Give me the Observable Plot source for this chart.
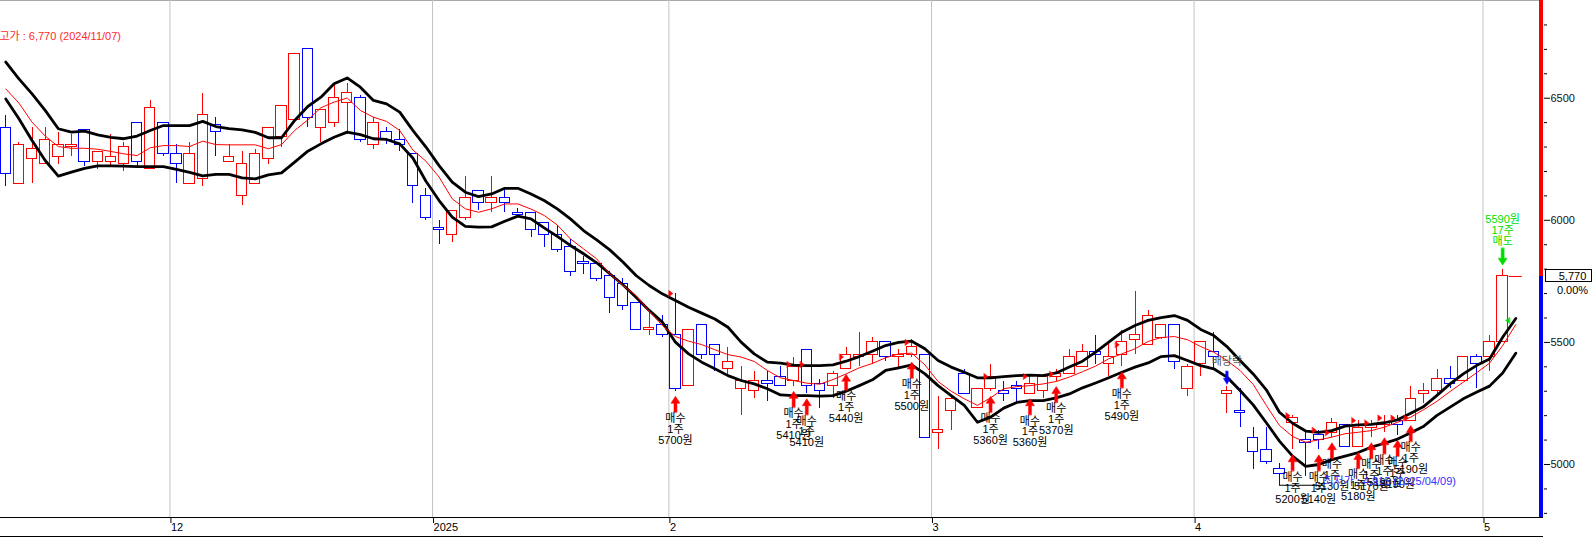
<!DOCTYPE html>
<html><head><meta charset="utf-8">
<script src="https://cdn.jsdelivr.net/npm/d3@7"></script>
<script src="https://cdn.jsdelivr.net/npm/@observablehq/plot@0.6"></script>
<style>
html,body{margin:0;padding:0;background:#fff;}
#chart svg{display:block;}
</style></head><body><div id="chart"></div>
<script>
// ---- data (trading-day index 0 = 2024/11/13) ----
const openP  = [6380,6150,6250,6230,6260,6300,6370,6240,6240,6230,6400,6210,6400,6270,6150,6170,6390,6240,6100,6150,6250,6340,6410,6700,6380,6400,6480,6500,6310,6360,6330,6270,6100,5970,5940,6010,6120,6070,6090,6030,6030,5990,5940,5890,5830,5820,5770,5740,5660,5550,5570,5530,5320,5570,5490,5390,5310,5300,5340,5360,5340,5470,5330,5320,5390,5440,5450,5500,5440,5450,5450,5130,5220,5370,5230,5310,5300,5320,5290,5300,5360,5370,5400,5460,5410,5450,5510,5490,5520,5570,5310,5410,5460,5290,5220,5110,5060,4980,5170,5100,5120,5130,5160,5070,5150,5160,5180,5180,5290,5300,5350,5340,5440,5440,5500];
const highP  = [6430,6320,6380,6380,6360,6350,6370,6280,6350,6320,6400,6490,6400,6310,6320,6520,6420,6310,6280,6290,6380,6470,6680,6700,6450,6550,6560,6510,6420,6380,6370,6270,6130,6000,6040,6180,6120,6180,6130,6050,6030,5990,5980,5920,5850,5830,5790,5760,5660,5630,5610,5700,5550,5570,5490,5480,5400,5380,5380,5400,5440,5470,5350,5380,5480,5540,5520,5500,5470,5510,5450,5280,5280,5390,5310,5410,5340,5340,5360,5370,5390,5470,5490,5530,5500,5550,5710,5630,5570,5570,5410,5500,5540,5320,5310,5150,5150,5005,5200,5130,5140,5190,5160,5180,5180,5200,5200,5320,5330,5390,5400,5440,5450,5530,5800];
const lowP   = [6140,6150,6150,6230,6230,6260,6220,6210,6220,6200,6220,6210,6260,6150,6150,6140,6260,6240,6060,6150,6230,6300,6400,6380,6320,6380,6350,6320,6290,6310,6280,6070,6000,5900,5910,6000,6040,6030,6030,6010,5930,5890,5870,5770,5780,5750,5620,5630,5550,5530,5520,5300,5320,5430,5380,5370,5200,5270,5260,5320,5320,5290,5230,5270,5390,5400,5410,5420,5390,5440,5110,5060,5140,5290,5230,5300,5260,5260,5290,5270,5340,5370,5400,5410,5360,5400,5450,5490,5510,5390,5280,5360,5390,5210,5150,4980,5000,4915,5060,4950,5060,5110,5070,5070,5110,5130,5120,5180,5250,5280,5310,5340,5310,5380,5500];
const closeP = [6190,6310,6290,6330,6310,6310,6240,6280,6260,6300,6240,6460,6270,6230,6270,6430,6360,6260,6230,6270,6380,6470,6680,6420,6450,6500,6520,6330,6400,6330,6310,6140,6010,5960,6040,6090,6070,6090,6070,6020,5960,5940,5880,5790,5820,5760,5680,5650,5550,5560,5530,5310,5550,5450,5450,5420,5340,5340,5330,5320,5400,5320,5300,5370,5450,5450,5500,5440,5450,5480,5110,5140,5270,5290,5310,5360,5290,5310,5330,5360,5370,5440,5460,5450,5440,5500,5530,5610,5570,5420,5400,5500,5440,5300,5210,5050,5010,4960,5190,5090,5100,5170,5070,5150,5160,5170,5160,5270,5300,5350,5330,5440,5410,5500,5770];

const upperBand = [6648,6579,6518,6450,6375,6361,6365,6350,6340,6334,6345,6368,6388,6388,6388,6405,6384,6375,6370,6360,6338,6338,6409,6466,6504,6559,6583,6545,6491,6477,6443,6368,6300,6224,6156,6115,6097,6108,6131,6131,6108,6081,6047,6006,5958,5920,5879,5829,5774,5733,5699,5672,5644,5620,5596,5562,5501,5453,5419,5415,5407,5405,5405,5408,5423,5442,5464,5487,5500,5505,5474,5426,5399,5378,5355,5355,5360,5364,5366,5364,5375,5399,5423,5460,5501,5542,5569,5590,5601,5610,5590,5553,5528,5483,5426,5371,5306,5214,5169,5137,5132,5139,5157,5162,5164,5171,5183,5210,5238,5283,5330,5371,5405,5432,5521,5598];
const midLine   = [6538,6480,6402,6345,6302,6295,6295,6291,6282,6272,6265,6297,6306,6306,6302,6324,6310,6309,6309,6309,6293,6310,6368,6411,6461,6484,6501,6450,6422,6405,6368,6288,6242,6177,6088,6047,6033,6047,6067,6067,6046,6020,5981,5924,5883,5842,5781,5733,5692,5628,5569,5524,5505,5491,5470,5450,5440,5422,5385,5355,5344,5333,5329,5348,5371,5396,5414,5437,5453,5456,5408,5340,5300,5269,5242,5273,5310,5319,5323,5330,5340,5358,5380,5403,5433,5453,5474,5504,5520,5524,5511,5483,5460,5426,5385,5328,5242,5160,5115,5091,5101,5112,5126,5132,5139,5153,5173,5194,5225,5259,5299,5337,5375,5415,5487,5573];
const lowerBand = [6497,6416,6327,6245,6181,6197,6213,6223,6223,6222,6220,6220,6220,6209,6196,6182,6188,6188,6174,6170,6186,6194,6238,6283,6313,6340,6361,6351,6334,6331,6313,6255,6160,6081,6013,5975,5972,5973,5996,6017,6006,5969,5934,5897,5863,5826,5781,5736,5685,5631,5583,5501,5453,5419,5392,5364,5344,5330,5310,5285,5282,5282,5280,5282,5300,5323,5347,5385,5396,5408,5371,5323,5282,5242,5173,5194,5231,5254,5262,5262,5273,5289,5314,5334,5355,5378,5399,5416,5442,5446,5426,5405,5392,5358,5303,5244,5171,5096,5034,4992,5000,5020,5034,5049,5071,5087,5104,5130,5157,5201,5235,5269,5296,5321,5375,5456];

const monthTicks  = [12.5, 32.5, 50.5, 70.5, 90.5, 112.5];
const monthLabels = ["12", "2025", "2", "3", "4", "5"];
const priceTicks  = [5000, 5500, 6000, 6500];
const minorTicks  = [4800,4900,5100,5200,5300,5400,5600,5700,5800,5900,6100,6200,6300,6400,6600,6700,6800];

const buyIndex = [51,60,61,64,69,75,78,80,85,98,100,101,103,104,105,106,107];
const buyPrice = [5700,5410,5410,5440,5500,5360,5360,5370,5490,5200,5140,5130,5180,5170,5190,5190,5190];
const buyQty   = [1,1,1,1,1,1,1,1,1,1,1,1,1,1,1,1,1];
const sellIndex = [114];
const sellPrice = [5590];
const sellQty   = [17];
const exDivIndex = [93];
const exDivText  = ["배당락"];

const highMarkIndex = [-4];
const highMarkPrice = [6770];
const highMarkDate  = ["2024/11/07"];
const lowMarkIndex  = [97];
const lowMarkPrice  = [4915];
const lowMarkDate   = ["2025/04/09"];

const lastPrice = [5770];
const lastChange = ["0.00%"];

// ---- build tables ----
const RED = "#ff0000", BLUE = "#0000ff", GREEN = "#00dd00";
const X_MIN = -0.4037, X_MAX = 116.73, Y_MIN = 4783, Y_MAX = 6900.1;
const candles = openP.map((o, i) => ({i, open: o, high: highP[i], low: lowP[i], close: closeP[i]}));
const upC = candles.filter(d => d.close >= d.open);
const downC = candles.filter(d => d.close < d.open);
const bands = upperBand.map((u, i) => ({i, upper: u, mid: midLine[i], lower: lowerBand[i]}));
const buys = buyIndex.map((k, j) => ({i: k, price: buyPrice[j], qty: buyQty[j], low: lowP[k]}));
const sells = sellIndex.map((k, j) => ({i: k, price: sellPrice[j], qty: sellQty[j], high: highP[k]}));
const exDivs = exDivIndex.map((k, j) => ({i: k, text: exDivText[j], high: highP[k]}));
const highMarks = highMarkIndex.map((k, j) => ({i: k, price: highMarkPrice[j], date: highMarkDate[j]}));
const lowMarks = lowMarkIndex.map((k, j) => ({i: k, price: lowMarkPrice[j], date: lowMarkDate[j]}));
const lastIdx = candles.length - 1;

const fmt = d3.format(",");
const FONT = "'Liberation Sans', 'Noto Sans CJK KR', sans-serif";

// custom vector shapes
const arrowShape = (hw, hh, sw) => ({ draw(ctx, l) {
  ctx.moveTo(-sw, 0); ctx.lineTo(-sw, -l + hh); ctx.lineTo(-hw, -l + hh);
  ctx.lineTo(0, -l); ctx.lineTo(hw, -l + hh); ctx.lineTo(sw, -l + hh);
  ctx.lineTo(sw, 0); ctx.closePath(); } });
const flagRight = { draw(ctx) { ctx.moveTo(0, -3); ctx.lineTo(4, 0); ctx.lineTo(0, 3); ctx.closePath(); } };
const flagLeft  = { draw(ctx) { ctx.moveTo(0, -3); ctx.lineTo(-4, 0); ctx.lineTo(0, 3); ctx.closePath(); } };
const hLine = { draw(ctx, l) { ctx.moveTo(0, 0); ctx.lineTo(l, 0); } };

const chart = Plot.plot({
  width: 1592, height: 537,
  marginLeft: 0, marginRight: 54, marginTop: 0, marginBottom: 20,
  style: {fontFamily: FONT, fontSize: "11px", background: "#fff", color: "#000"},
  x: {type: "linear", domain: [X_MIN, X_MAX], axis: null, label: null},
  y: {type: "linear", domain: [Y_MIN, Y_MAX], axis: null, label: null},
  marks: [
    // top border and month gridlines
    Plot.ruleY([Y_MAX], {stroke: "#aaaaaa", insetRight: -5}),
    Plot.ruleX(monthTicks, {stroke: "#c4c4c4"}),
    // candles
    Plot.ruleX(upC, {x: "i", y1: "low", y2: "high", stroke: RED, shapeRendering: "crispEdges"}),
    Plot.ruleX(downC, {x: "i", y1: "low", y2: "high", stroke: BLUE, shapeRendering: "crispEdges"}),
    Plot.rect(upC, {x1: "i", x2: "i", y1: "open", y2: "close", insetLeft: -5.2, insetRight: -5.2,
      fill: "white", stroke: RED, shapeRendering: "crispEdges"}),
    Plot.rect(downC, {x1: "i", x2: "i", y1: "open", y2: "close", insetLeft: -5.2, insetRight: -5.2,
      fill: "white", stroke: BLUE, shapeRendering: "crispEdges"}),
    // last price tick to the right
    Plot.ruleY(lastPrice, {x1: lastIdx + 0.5, x2: lastIdx + 1.5, stroke: RED}),
    // envelope lines
    Plot.line(bands, {x: "i", y: "upper", stroke: "#000", strokeWidth: 2.8}),
    Plot.line(bands, {x: "i", y: "lower", stroke: "#000", strokeWidth: 2.8}),
    Plot.line(bands, {x: "i", y: "mid", stroke: RED, strokeWidth: 1}),
    // trade flags
    Plot.vector(buys, {x: "i", y: "price", dx: -6.5, length: 1, anchor: "start", shape: flagRight, fill: RED, stroke: RED, strokeWidth: 0.5}),
    Plot.vector(sells, {x: "i", y: "price", dx: 7, length: 1, anchor: "start", shape: flagLeft, fill: GREEN, stroke: GREEN, strokeWidth: 0.5}),
    // buy arrows and labels
    Plot.vector(buys, {x: "i", y: "low", dy: 5, length: 16, anchor: "end", shape: arrowShape(4.5, 7, 1.5), fill: RED, stroke: RED, strokeWidth: 0.5}),
    Plot.text(buys, {x: "i", y: "low", dy: 23, lineAnchor: "top", lineHeight: 1, fontSize: 11, fill: "#000",
      text: d => `매수\n${d.qty}주\n${d.price}원`}),
    // sell arrow and label
    Plot.vector(sells, {x: "i", y: "high", dy: -4, length: 17, rotate: 180, anchor: "end", shape: arrowShape(4.5, 7, 1.5), fill: GREEN, stroke: GREEN, strokeWidth: 0.5}),
    Plot.text(sells, {x: "i", y: "high", dy: -24, lineAnchor: "bottom", lineHeight: 1, fontSize: 11, fill: GREEN,
      text: d => `${d.price}원\n${d.qty}주\n매도`}),
    // ex-dividend marker
    Plot.vector(exDivs, {x: "i", y: "high", dy: -2, length: 13, rotate: 180, anchor: "end", shape: arrowShape(3.5, 6, 1.2), fill: BLUE, stroke: BLUE, strokeWidth: 0.5}),
    Plot.text(exDivs, {x: "i", y: "high", dy: -25, text: "text", fontSize: 11, fill: "#555"}),
    // high / low marks
    Plot.text(highMarks, {x: "i", y: "price", dx: 36, dy: 4, textAnchor: "start", fontSize: 11, fill: "#ff2a2a",
      text: d => `최고가 : ${fmt(d.price)} (${d.date})`}),
    Plot.vector(lowMarks, {x: "i", y: "price", length: 43, anchor: "start", shape: hLine, stroke: "#000", strokeWidth: 1}),
    Plot.text(lowMarks, {x: "i", y: "price", dx: 44, dy: -4, textAnchor: "start", fontSize: 11, fill: "#3030ff",
      text: d => `최저가 : ${fmt(d.price)} (${d.date})`}),
    // right colour bar
    Plot.ruleX([X_MAX], {y1: lastPrice[0], y2: Y_MAX, stroke: RED, strokeWidth: 4, dx: 2.5}),
    Plot.ruleX([X_MAX], {y1: Y_MIN, y2: lastPrice[0], stroke: BLUE, strokeWidth: 4, dx: 2.5}),
    // right axis
    Plot.axisY(priceTicks, {anchor: "right", label: null, tickSize: 6, tickPadding: 1, dx: 5, fontSize: 11, fill: "#111",
      tickFormat: d => String(d)}),
    Plot.axisY(minorTicks, {anchor: "right", label: null, tickSize: 3, dx: 5, tickFormat: () => ""}),
    // last price box
    Plot.rect(lastPrice, {x1: X_MAX, x2: X_MAX, y1: d => d, y2: d => d, insetLeft: 7.5, insetRight: -53.5,
      insetTop: -6, insetBottom: -6, fill: "white", stroke: "#000", shapeRendering: "crispEdges"}),
    Plot.text(lastPrice, {x: X_MAX, y: d => d, dx: 34, fontSize: 11, fill: "#000", text: d => fmt(d)}),
    Plot.text(lastChange, {x: X_MAX, y: lastPrice[0], dx: 34, dy: 14, fontSize: 11, fill: "#000", text: d => d}),
    // bottom axis
    Plot.ruleY([Y_MIN], {stroke: "#000", insetRight: -5}),
    Plot.ruleY([Y_MIN], {stroke: "#000", dy: 19, insetRight: -5}),
    Plot.axisX(monthTicks, {anchor: "bottom", label: null, tickSize: 6, tickPadding: 0, textAnchor: "start", dx: 1, fontSize: 11, fill: "#000",
      tickFormat: d => monthLabels[monthTicks.indexOf(d)]})
  ]
});
document.getElementById("chart").appendChild(chart);
</script>
</body></html>
